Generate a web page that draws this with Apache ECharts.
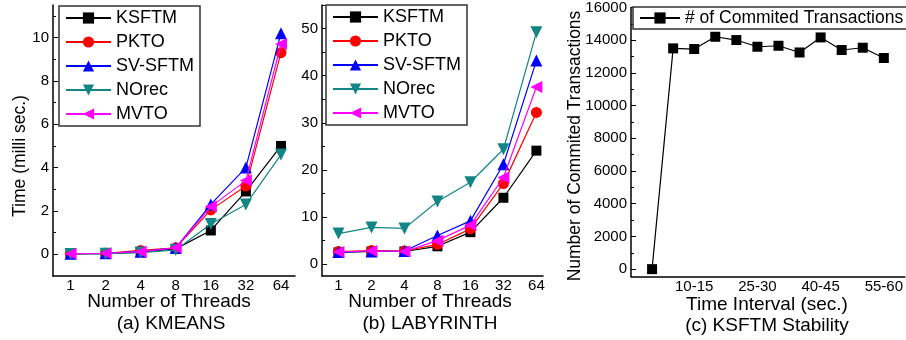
<!DOCTYPE html>
<html>
<head>
<meta charset="utf-8">
<script src="https://cdn.jsdelivr.net/npm/echarts@6/dist/echarts.min.js"></script>
<style>
html,body{margin:0;padding:0;background:#fff;}
#chart{width:906px;height:340px;}
</style>
</head>
<body>
<div id="chart"></div>
<script>
// ---------- data ----------
var threads = ['1', '2', '4', '8', '16', '32', '64'];
var seriesNames = ['KSFTM', 'PKTO', 'SV-SFTM', 'NOrec', 'MVTO'];

var kmeansKSFTM  = [0.02, 0.03, 0.10, 0.25, 1.10, 2.90, 5.00];
var kmeansPKTO   = [0.03, 0.05, 0.18, 0.30, 2.05, 3.15, 9.30];
var kmeansSVSFTM = [0.03, 0.05, 0.12, 0.30, 2.30, 4.00, 10.20];
var kmeansNOrec  = [0.02, 0.03, 0.08, 0.20, 1.40, 2.30, 4.60];
var kmeansMVTO   = [0.03, 0.05, 0.12, 0.30, 2.20, 3.40, 9.70];

var labKSFTM  = [2.5, 2.7, 2.7, 3.8, 6.8, 14.1, 24.1];
var labPKTO   = [2.7, 2.9, 2.8, 4.2, 7.5, 17.1, 32.2];
var labSVSFTM = [2.6, 2.7, 2.8, 6.1, 9.2, 21.2, 43.2];
var labNOrec  = [6.5, 7.8, 7.6, 13.3, 17.4, 24.4, 49.2];
var labMVTO   = [2.6, 2.8, 2.7, 5.0, 8.3, 18.4, 37.6];

var intervals = ['0-5', '5-10', '10-15', '15-20', '20-25', '25-30', '30-35', '35-40', '40-45', '45-50', '50-55', '55-60'];
var committed = [0, 13500, 13460, 14210, 14010, 13600, 13660, 13250, 14170, 13400, 13540, 12910];
var stabilityName = '# of Commited Transactions';

var kmeansTicks = [0, 2, 4, 6, 8, 10];
var labTicks = [0, 10, 20, 30, 40, 50];
var commitTicks = [0, 2000, 4000, 6000, 8000, 10000, 12000, 14000, 16000];

// ---------- styling ----------
var FONT = 'Liberation Sans, Arial, sans-serif';
var colors = ['#000000', '#ff0000', '#0000ff', '#138585', '#ff00ff'];
var symbols = ['rect', 'circle', 'triangle', 'triangle', 'triangle'];
var rotates = [0, 0, 0, 180, 90];
var sizes = [10, 11, 12, 12, 12];

function pairs(arr) { return arr.map(function (v, i) { return [i, v]; }); }
function range(a, b, s) { var r = []; for (var v = a; v <= b + 1e-9; v += s) r.push(Math.round(v * 1000) / 1000); return r; }

var option = {
  animation: false,
  backgroundColor: '#fff',
  textStyle: { fontFamily: FONT, color: '#000' },
  grid: [
    { left: 53, top: 5, width: 242, height: 271 },
    { left: 322, top: 5, width: 221, height: 271 },
    { left: 631, top: 6, width: 274, height: 270.5 }
  ],
  xAxis: [],
  yAxis: [],
  series: [],
  legend: [],
  graphic: []
};

function catX(gridIndex, min, max) {
  return {
    type: 'value', gridIndex: gridIndex, min: min, max: max,
    splitLine: { show: false },
    axisLine: { show: true, onZero: false, lineStyle: { color: '#000', width: 1.5 } },
    axisTick: { show: false },
    axisLabel: {
      customValues: threads.map(function (_, i) { return i; }),
      formatter: function (v) { return threads[Math.round(v)]; },
      fontSize: 15, color: '#000', fontFamily: FONT, margin: 2
    }
  };
}
function yMajor(gridIndex, min, max, ticks, len) {
  return {
    type: 'value', gridIndex: gridIndex, min: min, max: max, position: 'left',
    splitLine: { show: false },
    axisLine: { show: true, onZero: false, lineStyle: { color: '#000', width: 1.5 } },
    axisTick: { show: true, inside: true, length: len, customValues: ticks, lineStyle: { color: '#000', width: 1 } },
    axisLabel: {
      customValues: ticks, fontSize: 15, color: '#000', fontFamily: FONT, margin: 4,
      formatter: function (v) { return String(v); }
    }
  };
}
function yMinor(gridIndex, min, max, ticks) {
  return {
    type: 'value', gridIndex: gridIndex, min: min, max: max, position: 'left', offset: 0,
    splitLine: { show: false },
    axisLine: { show: false, onZero: false },
    axisTick: { show: true, inside: true, length: 3, customValues: ticks, lineStyle: { color: '#000', width: 1 } },
    axisLabel: { show: false }
  };
}

option.xAxis.push(catX(0, -0.5, 6.4));
option.xAxis.push(catX(1, -0.5, 6.2));
option.xAxis.push({
  type: 'value', gridIndex: 2, min: -1, max: 12,
  splitLine: { show: false },
  axisLine: { show: true, onZero: false, lineStyle: { color: '#000', width: 1.5 } },
  axisTick: { show: false },
  axisLabel: {
    customValues: intervals.map(function (_, i) { return i; }).filter(function (i) { return i % 3 === 2; }),
    formatter: function (v) { return intervals[Math.round(v)]; },
    fontSize: 15, color: '#000', fontFamily: FONT, margin: 3
  }
});

option.yAxis.push(yMajor(0, -1, 11.5, kmeansTicks, 5));
option.yAxis.push(yMajor(1, -2.5, 55, labTicks, 5));
option.yAxis.push(yMajor(2, -450, 16000, commitTicks, 5));
option.yAxis.push(yMinor(0, -1, 11.5, range(1, 11, 2)));
option.yAxis.push(yMinor(1, -2.5, 55, range(5, 55, 10)));
option.yAxis.push(yMinor(2, -450, 16000, range(1000, 15000, 2000)));

var kmeansData = [kmeansKSFTM, kmeansPKTO, kmeansSVSFTM, kmeansNOrec, kmeansMVTO];
var labData = [labKSFTM, labPKTO, labSVSFTM, labNOrec, labMVTO];

function addSeries(dataSets, axisIndex) {
  dataSets.forEach(function (vals, k) {
    option.series.push({
      type: 'line', name: seriesNames[k], xAxisIndex: axisIndex, yAxisIndex: axisIndex,
      data: pairs(vals),
      symbol: symbols[k], symbolRotate: rotates[k], symbolSize: sizes[k],
      showSymbol: true,
      lineStyle: { color: colors[k], width: 1.2 },
      itemStyle: { color: colors[k], borderWidth: 0 },
      z: 2 + k
    });
  });
}
addSeries(kmeansData, 0);
addSeries(labData, 1);
option.series.push({
  type: 'line', name: stabilityName, xAxisIndex: 2, yAxisIndex: 2,
  data: pairs(committed),
  symbol: 'rect', symbolSize: 10,
  lineStyle: { color: '#000', width: 1.2 },
  itemStyle: { color: '#000' }
});

function legendAt(left, top) {
  return {
    data: seriesNames.slice(), orient: 'vertical', left: left, top: top,
    padding: [3, 6, 3, 6], itemWidth: 45, itemHeight: 14, itemGap: 6,
    borderColor: '#333', borderWidth: 1.5, backgroundColor: '#fff',
    selectedMode: false,
    textStyle: { fontSize: 18, lineHeight: 14, color: '#000', fontFamily: FONT }
  };
}
option.legend.push(legendAt(59, 6));
option.legend.push(legendAt(326, 5));
option.legend.push({
  data: [stabilityName], orient: 'vertical', left: 633, top: 7,
  padding: [2, 4, 2, 6], itemWidth: 40, itemHeight: 14,
  borderColor: '#333', borderWidth: 1.5, backgroundColor: '#fff',
  selectedMode: false,
  textStyle: { fontSize: 17.5, lineHeight: 14, color: '#000', fontFamily: FONT }
});

function label(text, x, y, size, rot) {
  return {
    type: 'text', x: x, y: y, rotation: rot ? Math.PI / 2 : 0, z: 100,
    style: { text: text, fontSize: size, fontFamily: FONT, fill: '#000', align: 'center', verticalAlign: 'middle' }
  };
}
option.graphic = [
  label('Time (milli sec.)', 20.5, 156, 17.5, true),
  label('Number of Threads', 169, 302, 19),
  label('(a) KMEANS', 171, 324, 19),
  label('Number of Threads', 430, 302, 19),
  label('(b) LABYRINTH', 430, 324, 19),
  label('Number of Commited Transactions', 575, 146, 17.5, true),
  label('Time Interval (sec.)', 767, 305, 19),
  label('(c) KSFTM Stability', 767, 326, 19)
];

var chart = echarts.init(document.getElementById('chart'), null, { renderer: 'canvas' });
chart.setOption(option);
</script>
</body>
</html>
